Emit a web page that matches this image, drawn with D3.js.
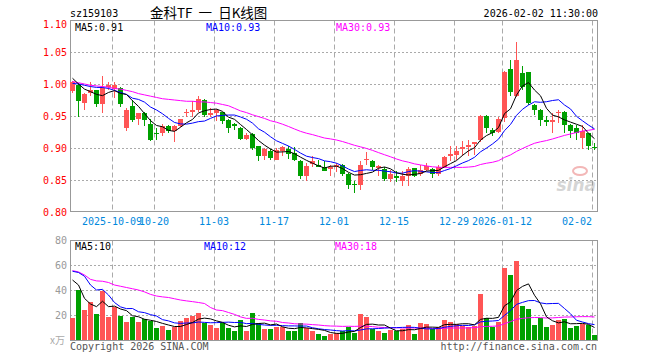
<!DOCTYPE html>
<html><head><meta charset="utf-8">
<script src="https://cdn.jsdelivr.net/npm/d3@7"></script>
<style>body{margin:0;background:#fff}svg{display:block}</style>
</head><body><svg id="c" width="660" height="360"></svg>
<script>
const dates = ["2025-09-22","2025-09-23","2025-09-24","2025-09-25","2025-09-26","2025-09-29","2025-09-30",
"2025-10-09","2025-10-10","2025-10-13","2025-10-14","2025-10-15","2025-10-16","2025-10-17","2025-10-20","2025-10-21","2025-10-22","2025-10-23","2025-10-24","2025-10-27","2025-10-28","2025-10-29","2025-10-30","2025-10-31",
"2025-11-03","2025-11-04","2025-11-05","2025-11-06","2025-11-07","2025-11-10","2025-11-11","2025-11-12","2025-11-13","2025-11-14","2025-11-17","2025-11-18","2025-11-19","2025-11-20","2025-11-21","2025-11-24","2025-11-25","2025-11-26","2025-11-27","2025-11-28",
"2025-12-01","2025-12-02","2025-12-03","2025-12-04","2025-12-05","2025-12-08","2025-12-09","2025-12-10","2025-12-11","2025-12-12","2025-12-15","2025-12-16","2025-12-17","2025-12-18","2025-12-19","2025-12-22","2025-12-23","2025-12-24","2025-12-25","2025-12-26","2025-12-29","2025-12-30","2025-12-31",
"2026-01-05","2026-01-06","2026-01-07","2026-01-08","2026-01-09","2026-01-12","2026-01-13","2026-01-14","2026-01-15","2026-01-16","2026-01-19","2026-01-20","2026-01-21","2026-01-22","2026-01-23","2026-01-26","2026-01-27","2026-01-28","2026-01-29","2026-01-30",
"2026-02-02"];
const open = [0.989,0.999,0.971,0.986,0.990,0.968,0.995,0.992,0.994,0.931,0.966,0.945,0.954,0.938,0.923,0.924,0.935,0.927,0.934,0.955,0.957,0.960,0.9755,0.952,0.955,0.956,0.944,0.9375,0.932,0.9145,0.922,0.9025,0.888,0.896,0.882,0.895,0.899,0.892,0.880,0.857,0.8755,0.874,0.870,0.867,0.870,0.874,0.860,0.8442,0.8427,0.8817,0.880,0.8687,0.867,0.852,0.8567,0.849,0.857,0.868,0.860,0.866,0.867,0.860,0.870,0.888,0.8895,0.8984,0.9016,0.906,0.913,0.9505,0.9275,0.925,0.947,1.023,0.982,1.017,1.018,0.9676,0.960,0.943,0.940,0.9547,0.957,0.9364,0.931,0.9156,0.923,0.902];
const high = [1.005,1.001,0.986,1.003,0.991,1.013,1.003,1.003,0.996,0.9625,0.975,0.955,0.957,0.945,0.932,0.9375,0.936,0.936,0.946,0.961,0.974,0.982,0.977,0.9625,0.961,0.957,0.945,0.939,0.933,0.923,0.923,0.903,0.900,0.898,0.900,0.9036,0.9025,0.901,0.882,0.877,0.887,0.881,0.879,0.874,0.877,0.875,0.861,0.848,0.880,0.893,0.881,0.874,0.871,0.866,0.8635,0.8635,0.871,0.869,0.874,0.877,0.868,0.874,0.888,0.9036,0.9025,0.9114,0.913,0.910,0.951,0.951,0.931,0.948,1.020,1.038,1.065,1.0275,1.019,0.969,0.961,0.9505,0.955,0.960,0.958,0.937,0.9364,0.9364,0.924,0.908];
const low = [0.986,0.949,0.960,0.981,0.964,0.955,0.990,0.978,0.964,0.927,0.940,0.936,0.934,0.911,0.913,0.919,0.924,0.910,0.933,0.948,0.948,0.957,0.949,0.948,0.942,0.9375,0.924,0.9286,0.913,0.913,0.897,0.879,0.882,0.882,0.881,0.888,0.883,0.880,0.852,0.848,0.871,0.870,0.8635,0.857,0.862,0.8556,0.836,0.830,0.835,0.874,0.866,0.8556,0.849,0.847,0.847,0.840,0.840,0.855,0.8556,0.8635,0.853,0.8556,0.869,0.879,0.881,0.888,0.888,0.8895,0.910,0.923,0.918,0.923,0.940,0.981,0.980,0.991,0.9676,0.952,0.934,0.934,0.923,0.939,0.923,0.9156,0.913,0.898,0.897,0.897];
const close = [1.003,0.973,0.985,0.990,0.968,0.993,0.998,0.999,0.968,0.960,0.944,0.954,0.943,0.913,0.922,0.934,0.926,0.935,0.945,0.957,0.960,0.977,0.952,0.955,0.960,0.942,0.932,0.935,0.9145,0.921,0.900,0.888,0.899,0.884,0.897,0.9015,0.891,0.882,0.857,0.872,0.879,0.871,0.8645,0.871,0.873,0.860,0.8416,0.8427,0.874,0.8833,0.8697,0.8723,0.852,0.860,0.853,0.857,0.8677,0.857,0.866,0.8723,0.860,0.8697,0.8853,0.8906,0.896,0.901,0.905,0.9094,0.9505,0.931,0.924,0.945,1.018,0.988,1.038,0.996,0.971,0.960,0.943,0.940,0.943,0.957,0.9364,0.926,0.923,0.926,0.9036,0.901];
const volume = [17.9,40,24,30.7,20.8,39.5,18.4,26.1,19.2,14.4,18.7,14.4,16.5,14.9,9.6,11.2,8,10.1,15.2,17.6,19.2,21.6,13.9,12,9.9,13.3,9.9,7.5,16,7.5,21.6,13.3,9.1,9.1,10.7,10.7,7.5,7.5,13.6,9.3,7.5,4.8,3.2,5.2,5.9,7.2,10.7,5.6,20.8,18.1,8.5,7.2,5.6,8.3,7.2,8.5,12,4.8,13.6,12.8,8.5,10.7,16,14.4,12.8,11.2,10.7,11.2,36.8,17.3,10.7,14.7,57.3,52,63.2,27.2,24.8,12,17.9,10.4,12,16,16.5,9.9,11.2,12.8,12,4];
const ma5 = [1.009,1.000,0.992,0.988,0.9838,0.9818,0.9868,0.9896,0.9852,0.9836,0.9738,0.965,0.9538,0.9428,0.9352,0.9332,0.9276,0.926,0.9324,0.9394,0.9446,0.9548,0.9582,0.9602,0.9608,0.9572,0.9482,0.9448,0.9367,0.9289,0.9205,0.9117,0.9045,0.8984,0.8936,0.8939,0.8945,0.8911,0.8857,0.8807,0.8762,0.8722,0.8687,0.8715,0.8717,0.8679,0.862,0.8577,0.8583,0.8603,0.8623,0.8684,0.8703,0.8675,0.8614,0.8589,0.8579,0.8589,0.8601,0.864,0.8646,0.865,0.8707,0.8756,0.8803,0.8885,0.8956,0.9004,0.9124,0.9194,0.924,0.932,0.9537,0.9612,0.9826,0.997,1.0022,0.9906,0.9816,0.962,0.9514,0.9486,0.9439,0.9405,0.9371,0.9337,0.923,0.9145];
const ma10 = [1.001,1.000,0.998,0.996,0.9947,0.9945,0.993,0.990,0.987,0.9837,0.9778,0.9759,0.9717,0.964,0.9594,0.9535,0.9463,0.9399,0.9376,0.9373,0.9389,0.9412,0.9421,0.9463,0.9501,0.9509,0.9515,0.9515,0.9485,0.9449,0.9389,0.93,0.9247,0.9176,0.9113,0.9072,0.9031,0.8978,0.8921,0.8872,0.8851,0.8834,0.8799,0.8786,0.8762,0.8721,0.8671,0.8632,0.8649,0.866,0.8651,0.8652,0.864,0.8629,0.8609,0.8606,0.8632,0.8646,0.8638,0.8627,0.8617,0.8615,0.8648,0.8679,0.8722,0.8766,0.8803,0.8855,0.894,0.8999,0.9063,0.9138,0.9271,0.9368,0.951,0.9605,0.9671,0.9722,0.9714,0.9723,0.9742,0.9754,0.9672,0.961,0.9495,0.9425,0.9358,0.9299];
const ma30 = [1.004,1.002,1.000,0.998,0.997,0.996,0.995,0.993,0.992,0.990,0.988,0.985,0.983,0.981,0.979,0.977,0.976,0.975,0.974,0.973,0.973,0.972,0.972,0.971,0.970,0.968,0.966,0.962,0.958,0.9553,0.9519,0.949,0.9462,0.9426,0.9403,0.9372,0.9336,0.9297,0.926,0.9231,0.9209,0.9182,0.9156,0.9142,0.9125,0.9101,0.9072,0.9042,0.9018,0.8993,0.8963,0.8928,0.8895,0.8863,0.8828,0.8799,0.8778,0.8752,0.8736,0.872,0.8706,0.87,0.8696,0.8698,0.8697,0.8697,0.8702,0.8711,0.8742,0.8762,0.8777,0.8802,0.8853,0.8892,0.8947,0.8992,0.9035,0.9074,0.9097,0.9116,0.9141,0.9169,0.9197,0.9219,0.9242,0.9265,0.9277,0.9292];
const vma5 = [48,44,33.3,28.8,26.7,31,26.7,27.1,24.8,23.5,19.4,18.6,16.6,15.8,14.8,13.3,12,10.8,10.8,12.4,14,16.7,17.5,16.9,15.3,14.1,11.8,10.5,11.3,10.8,12.5,13.2,13.5,12.1,12.8,10.6,9.4,9.1,10,9.7,9.1,8.5,7.7,6,5.3,5.3,6.4,6.9,10,12.5,12.7,12,12,9.5,7.4,7.4,8.3,8.2,9.2,10.3,10.3,10.1,12.3,12.5,12.5,13,13,12.1,16.5,17.4,17.3,18.1,27.4,30.4,39.6,42.9,44.9,35.8,29,18.5,15.4,13.7,14.6,13,13.1,13.3,12.5,10];
const vma10 = [55,54,51,44,40,40.5,36,30,26.5,25.1,25.2,22.6,21.9,20.3,19.2,16.3,15.3,13.7,13.3,13.6,13.7,14.4,14.1,13.8,13.9,14.1,14.3,14,14.1,13.1,13.3,12.5,12,11.7,11.8,11.5,11.3,11.3,11.1,11.2,9.8,9,8.4,8,7.5,7.2,7.5,7.3,8,8.9,9,9.2,9.5,9.8,9.9,10.1,10.2,10.1,9.4,8.9,8.9,9.2,10.2,10.9,11.4,11.7,11.6,12.2,14.5,15,15.2,15.6,19.7,23.5,28.5,30.1,31.5,31.6,29.7,29,29.2,29.3,25.2,21,15.8,14.4,13.1,12.3];
const vma30 = [55.5,54.5,52,48.5,47.3,47,46,44,43,42,41,40,38.5,36.5,35.2,34.5,34,33,32,31.3,30.7,30,29.2,26,24,23.5,22,20.5,18.5,17.3,17.4,16.5,16,15.3,15,14,13.6,13,12.8,12.7,12.3,12,11.5,11.2,11.1,10.9,11,10.9,11.1,11.1,10.7,10.2,10,9.8,9.8,9.6,9.7,9.6,9.5,9.7,9.2,9.1,9.4,9.6,9.6,9.6,9.7,9.9,10.6,10.9,11,11.3,13.1,14.7,16.6,17.3,17.8,18,17.9,17.6,17.7,18,18.4,18.4,18.6,18.7,18.7,18.4];
const priceLegend = ["MA5:0.91", "MA10:0.93", "MA30:0.93"];
const volLegend = ["MA5:10", "MA10:12", "MA30:18"];
const tickDates = ["2025-10-09","2025-10-20","2025-11-03","2025-11-17","2025-12-01","2025-12-15","2025-12-29","2026-01-12","2026-02-02"];
const tickLabels = ["2025-10-09","10-20","11-03","11-17","12-01","12-15","12-29","2026-01-12","02-02"];
const priceTicks = [0.80,0.85,0.90,0.95,1.00,1.05,1.10];
const volTicks = [0,20,40,60,80];

const RED = "#ff5555", GREEN = "#00a000", GRID = "#aaaaaa", FRAME = "#999999";
const MONO = "'DejaVu Sans Mono', monospace";
const svg = d3.select("#c");
svg.append("rect").attr("width",660).attr("height",360).attr("fill","#fff");

const L = 70, R = 598;
const x = d3.scaleBand().domain(dates).range([L, R]).paddingInner(0).paddingOuter(0);
const yP = d3.scaleLinear().domain([0.80, 1.10]).range([212, 20]);
const yV = d3.scaleLinear().domain([0, 80]).range([340, 240]);
const px = v => Math.floor(v) + 0.5;

function panel(y0, y1, yScale, ticks) {
  const g = svg.append("g");
  ticks.forEach(t => {
    const yy = px(yScale(t));
    if (yy > y0 + 1 && yy < y1 - 1)
      g.append("line").attr("x1", L).attr("x2", R - 1).attr("y1", yy).attr("y2", yy)
        .attr("stroke", GRID).attr("stroke-dasharray", "2,2");
  });
  tickDates.forEach(d => {
    const xx = x(d) + 0.5;
    g.append("line").attr("x1", xx).attr("x2", xx).attr("y1", y0).attr("y2", y1)
      .attr("stroke", GRID).attr("stroke-dasharray", "5,3");
  });
  g.append("rect").attr("x", L + 0.5).attr("y", y0).attr("width", R - 1 - L).attr("height", y1 - y0)
    .attr("fill", "none").attr("stroke", FRAME);
  return g;
}
const pTop = px(yP(1.10)), pBot = px(yP(0.80)) - 1;
panel(pTop, pBot, yP, priceTicks);
const vTop = px(yV(80)), vBot = px(yV(0));
panel(vTop, vBot, yV, volTicks);

// header
svg.append("text").attr("x", 70).attr("y", 17).attr("font-family", MONO).attr("font-size", 10).attr("fill", "#000").text("sz159103");
svg.append("text").attr("x", 150).attr("y", 18).attr("font-family", "'Noto Sans CJK SC', sans-serif").attr("font-size", 13.5).attr("fill", "#000")
  .style("white-space", "pre").text("金科TF  一  日K线图");
svg.append("text").attr("x", 598).attr("y", 17).attr("text-anchor", "end").attr("font-family", MONO).attr("font-size", 10).attr("fill", "#000").text("2026-02-02 11:30:00");

// price axis labels
priceTicks.forEach(t => {
  svg.append("text").attr("x", 67).attr("y", Math.max(yP(t) + 4, 28)).attr("text-anchor", "end")
    .attr("font-family", MONO).attr("font-size", 10).attr("fill", "#ff0000").text(t.toFixed(2));
});
volTicks.filter(t => t > 0).forEach(t => {
  svg.append("text").attr("x", 67).attr("y", yV(t) + 4).attr("text-anchor", "end")
    .attr("font-family", MONO).attr("font-size", 10).attr("fill", "#999").text(t);
});
svg.append("text").attr("x", 50).attr("y", 344).attr("font-family", "'Noto Sans CJK SC', sans-serif").attr("font-size", 10).attr("fill", "#aaa").text("x万");

// date labels
tickDates.forEach((d, k) => {
  const xx = x(d);
  const t = svg.append("text").attr("y", 225).attr("font-family", MONO).attr("font-size", 10).attr("fill", "#0088dd").text(tickLabels[k]);
  const w = tickLabels[k].length * 6.02;
  if (xx + w / 2 > R - 4) t.attr("x", xx).attr("text-anchor", "end");
  else t.attr("x", xx).attr("text-anchor", "middle");
});

// watermark
const wm = svg.append("g").attr("opacity", 0.35);
wm.append("ellipse").attr("cx", 580).attr("cy", 171).attr("rx", 7).attr("ry", 4).attr("fill", "none").attr("stroke", "#d33").attr("stroke-width", 2);
wm.append("text").attr("x", 596).attr("y", 191).attr("text-anchor", "end").attr("font-family", "'DejaVu Sans', sans-serif").attr("font-style", "italic").attr("font-weight", "bold").attr("font-size", 17).attr("fill", "#888").text("sina");

// candles
const cg = svg.append("g").attr("shape-rendering", "crispEdges");
dates.forEach((d, i) => {
  const up = close[i] >= open[i];
  const col = up ? RED : GREEN;
  const x0 = x(d);
  const yh = yP(high[i]), yl = yP(low[i]);
  cg.append("rect").attr("x", x0 + 2).attr("y", Math.round(yh)).attr("width", 1).attr("height", Math.max(1, Math.round(yl) - Math.round(yh))).attr("fill", col);
  const yt = Math.round(yP(Math.max(open[i], close[i]))), yb = Math.round(yP(Math.min(open[i], close[i])));
  cg.append("rect").attr("x", x0).attr("y", yt).attr("width", x.bandwidth() - 1).attr("height", Math.max(1, yb - yt)).attr("fill", col);
  const vt = Math.round(yV(volume[i]));
  cg.append("rect").attr("x", x0).attr("y", vt).attr("width", x.bandwidth() - 1).attr("height", 340 - vt).attr("fill", col);
});

// MA lines
const cx = d => x(d) + 2.5;
function maLine(arr, yScale, color) {
  const line = d3.line().x((v, i) => cx(dates[i])).y(v => yScale(v));
  svg.append("path").attr("d", line(arr)).attr("fill", "none").attr("stroke", color).attr("stroke-width", 1);
}
maLine(ma30, yP, "#ff00ff"); maLine(ma10, yP, "#0000ff"); maLine(ma5, yP, "#000");
maLine(vma30, yV, "#ff00ff"); maLine(vma10, yV, "#0000ff"); maLine(vma5, yV, "#000");

// MA legends
function legend(y, items) {
  items.forEach(it => svg.append("text").attr("x", it[0]).attr("y", y).attr("font-family", MONO).attr("font-size", 10).attr("fill", it[2]).text(it[1]));
}
legend(31, [[75, priceLegend[0], "#000"], [206, priceLegend[1], "#0000ff"], [336, priceLegend[2], "#ff00ff"]]);
legend(250, [[75, volLegend[0], "#000"], [204, volLegend[1], "#0000ff"], [335, volLegend[2], "#ff00ff"]]);

// footer
svg.append("text").attr("x", 70).attr("y", 350).attr("font-family", MONO).attr("font-size", 10).attr("fill", "#555").text("Copyright 2026 SINA.COM");
svg.append("text").attr("x", 597).attr("y", 350).attr("text-anchor", "end").attr("font-family", MONO).attr("font-size", 10).attr("fill", "#555").text("http://finance.sina.com.cn");
</script></body></html>
